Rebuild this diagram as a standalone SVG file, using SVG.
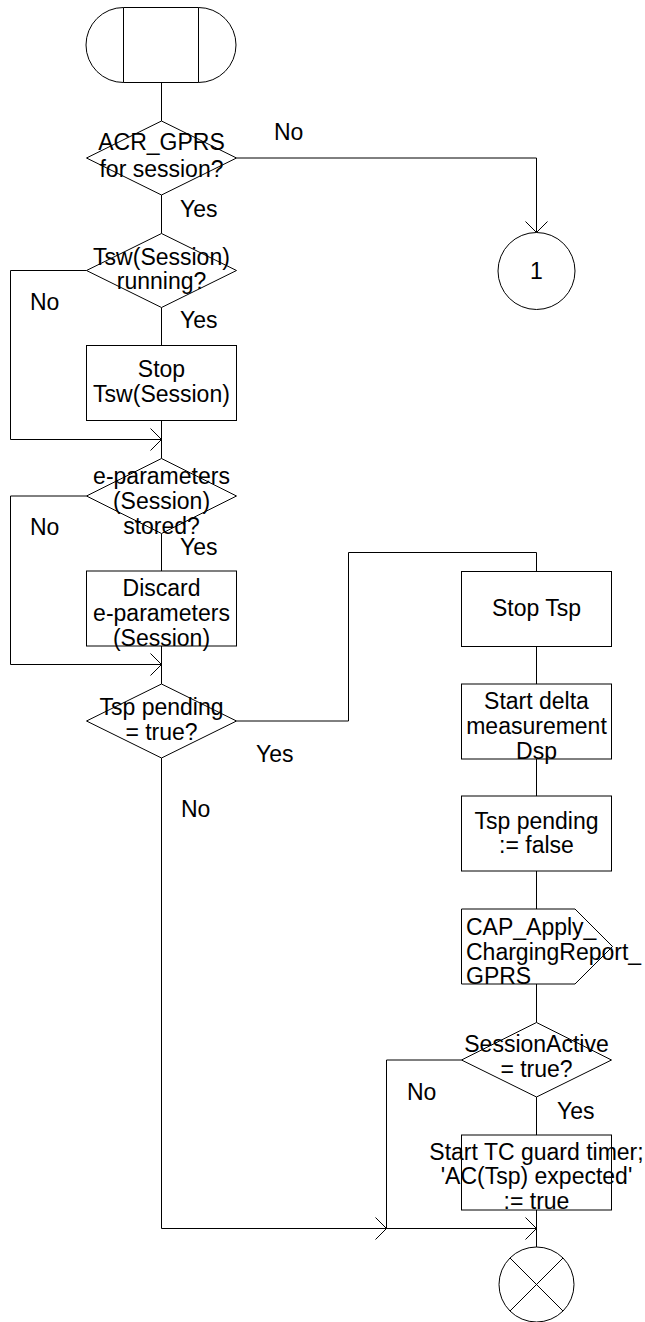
<svg xmlns="http://www.w3.org/2000/svg" width="645" height="1322" viewBox="0 0 645 1322">
<style>
.s{fill:#fff;stroke:#000;stroke-width:1}
.c{fill:none;stroke:#000;stroke-width:1}
text{font-family:"Liberation Sans",Arial,sans-serif;font-size:23px;fill:#000}
.m{text-anchor:middle}
</style>
<defs>
<marker id="arr" viewBox="-12 -12 14 24" markerWidth="14" markerHeight="24" refX="0" refY="0" orient="auto" markerUnits="userSpaceOnUse">
<path d="M-11,-11 L0,0 L-11,11" fill="none" stroke="#000" stroke-width="1"/>
</marker>
</defs>
<rect width="645" height="1322" fill="#fff"/>
<g id="connectors">
<path class="c" d="M161.5,82.5 V121"/>
<path class="c" d="M236.5,158 H536.5 V232.5" marker-end="url(#arr)"/>
<path class="c" d="M161.5,195 V233.5"/>
<path class="c" d="M161.5,307.5 V345.5"/>
<path class="c" d="M161.5,420.5 V458.5"/>
<path class="c" d="M86.5,270.5 H10.5 V439.5 H161.5" marker-end="url(#arr)"/>
<path class="c" d="M161.5,533.5 V571"/>
<path class="c" d="M161.5,646 V684"/>
<path class="c" d="M86.5,496 H10.5 V664.5 H161.5" marker-end="url(#arr)"/>
<path class="c" d="M236.5,721 H348.5 V552.5 H536.5 V571.5"/>
<path class="c" d="M536.5,646.5 V684"/>
<path class="c" d="M536.5,759 V796"/>
<path class="c" d="M536.5,871 V909"/>
<path class="c" d="M536.5,984 V1022.5"/>
<path class="c" d="M536.5,1097 V1135"/>
<path class="c" d="M536.5,1210 V1247"/>
<path class="c" d="M161.5,758 V1228.5 H386.5" marker-end="url(#arr)"/>
<path class="c" d="M461.5,1060 H386.5 V1228.5 H536.5" marker-end="url(#arr)"/>
</g>
<g id="labels">
<text x="274" y="140">No</text>
<text x="180" y="217">Yes</text>
<text x="30" y="310">No</text>
<text x="180" y="328">Yes</text>
<text x="30" y="535">No</text>
<text x="180" y="554.5">Yes</text>
<text x="256" y="762">Yes</text>
<text x="181" y="817">No</text>
<text x="407" y="1100">No</text>
<text x="557" y="1119">Yes</text>
</g>
<g id="start">
<path class="s" d="M123.5,7.5 H198.5 A37.5,37.5 0 0 1 198.5,82.5 H123.5 A37.5,37.5 0 0 1 123.5,7.5 Z"/>
<path class="c" d="M123.5,7.5 V82.5 M198.5,7.5 V82.5"/>
</g>
<g id="d_acr">
<polygon class="s" points="161.5,121 236.5,158 161.5,195 86.5,158"/>
<text class="m" x="161.5" y="150">ACR_GPRS</text>
<text class="m" x="161.5" y="177">for session?</text>
</g>
<g id="conn1">
<circle class="s" cx="536.5" cy="271" r="38.5"/>
<text class="m" x="536.5" y="279">1</text>
</g>
<g id="d_tsw">
<polygon class="s" points="161.5,233.5 236.5,270.5 161.5,307.5 86.5,270.5"/>
<text class="m" x="161.5" y="265">Tsw(Session)</text>
<text class="m" x="161.5" y="289">running?</text>
</g>
<g id="stop_tsw">
<rect class="s" x="86.5" y="345.5" width="150" height="75"/>
<text class="m" x="161.5" y="377">Stop</text>
<text class="m" x="161.5" y="402">Tsw(Session)</text>
</g>
<g id="d_eparam">
<polygon class="s" points="161.5,458.5 236.5,496 161.5,533.5 86.5,496"/>
<text class="m" x="161.5" y="483.5">e-parameters</text>
<text class="m" x="161.5" y="508.5">(Session)</text>
<text class="m" x="161.5" y="533.5">stored?</text>
</g>
<g id="discard">
<rect class="s" x="86.5" y="571" width="150" height="75"/>
<text class="m" x="161.5" y="596">Discard</text>
<text class="m" x="161.5" y="621">e-parameters</text>
<text class="m" x="161.5" y="646">(Session)</text>
</g>
<g id="d_tsp">
<polygon class="s" points="161.5,684 236.5,721 161.5,758 86.5,721"/>
<text class="m" x="161.5" y="715">Tsp pending</text>
<text class="m" x="161.5" y="740">= true?</text>
</g>
<g id="stop_tsp">
<rect class="s" x="461.5" y="571.5" width="150" height="75"/>
<text class="m" x="536.5" y="616">Stop Tsp</text>
</g>
<g id="start_delta">
<rect class="s" x="461.5" y="684" width="150" height="75"/>
<text class="m" x="536.5" y="709">Start delta</text>
<text class="m" x="536.5" y="734">measurement</text>
<text class="m" x="536.5" y="759">Dsp</text>
</g>
<g id="tsp_false">
<rect class="s" x="461.5" y="796" width="150" height="75"/>
<text class="m" x="536.5" y="828.5">Tsp pending</text>
<text class="m" x="536.5" y="853">:= false</text>
</g>
<g id="cap_out">
<polygon class="s" points="461.5,909 575,909 612.5,946.5 575,984 461.5,984"/>
<text x="466" y="935">CAP_Apply_</text>
<text x="466" y="960">ChargingReport_</text>
<text x="466" y="983.5">GPRS</text>
</g>
<g id="d_active">
<polygon class="s" points="536.5,1022.5 611.5,1060 536.5,1097 461.5,1060"/>
<text class="m" x="536.5" y="1052">SessionActive</text>
<text class="m" x="536.5" y="1077">= true?</text>
</g>
<g id="start_tc">
<rect class="s" x="461.5" y="1135" width="150" height="75"/>
<text class="m" x="536.5" y="1159.5">Start TC guard timer;</text>
<text class="m" x="536.5" y="1184">'AC(Tsp) expected'</text>
<text class="m" x="536.5" y="1209">:= true</text>
</g>
<g id="stop">
<circle class="s" cx="536.5" cy="1284.5" r="37.5"/>
<path class="c" d="M510,1258 L563,1311 M563,1258 L510,1311"/>
</g>
</svg>
